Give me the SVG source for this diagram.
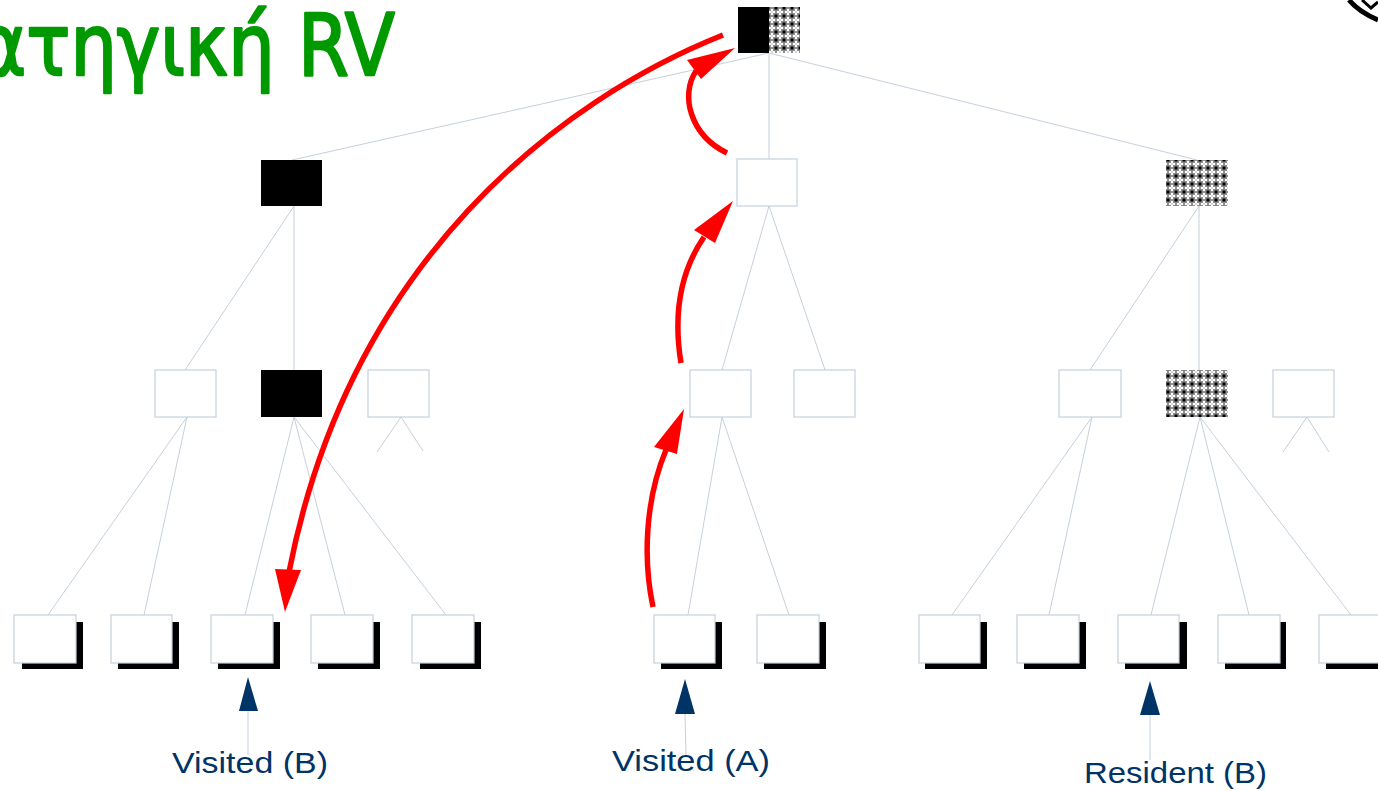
<svg xmlns="http://www.w3.org/2000/svg" width="1378" height="791" viewBox="0 0 1378 791">
<style>
.e{stroke:#c5d0dc;stroke-width:1;fill:none}
.n{fill:#fff;stroke:#c5d0dc;stroke-width:1.2}
.b{fill:#000}
.sh{fill:#000}
.r{stroke:#ff0000;stroke-width:5.5;fill:none}
.rh{fill:#ff0000}
.nv{fill:#003366}
.lbl{font-family:"Liberation Sans",Arial,sans-serif;font-size:30px;fill:#003366}
.title{font-family:"DejaVu Sans","Noto Sans",sans-serif;font-size:86px;fill:#009900;stroke:#009900;stroke-width:2.5;stroke-linejoin:round}
</style>
<defs>
<pattern id="pt" width="8" height="8" patternUnits="userSpaceOnUse">
<rect width="8" height="8" fill="#8c8c8c"/>
<path d="M3,1h2v2h2v2h-2v2h-2v-2h-2v-2h2z" fill="#fff"/>
<rect x="0" y="0" width="1.5" height="1.5" fill="#000"/>
<rect x="6.5" y="0" width="1.5" height="1.5" fill="#000"/>
<rect x="0" y="6.5" width="1.5" height="1.5" fill="#000"/>
<rect x="6.5" y="6.5" width="1.5" height="1.5" fill="#000"/>
<rect x="3.5" y="3.5" width="1" height="1" fill="#555"/>
</pattern>
</defs>
<rect width="1378" height="791" fill="#fff"/>
<text class="title" x="-22" y="75" textLength="417" lengthAdjust="spacingAndGlyphs">ατηγική RV</text>
<path d="M1349,0 Q1359,12 1378,20" stroke="#000" stroke-width="5" fill="none"/>
<path d="M1362,0 L1371,8 L1378,2" stroke="#000" stroke-width="3" fill="none"/>
<g id="connectors">
<line class="e" x1="769" y1="53" x2="292" y2="160"/>
<line class="e" x1="769" y1="53" x2="769" y2="159"/>
<line class="e" x1="769" y1="53" x2="1197" y2="160"/>
<line class="e" x1="294" y1="206" x2="185" y2="370"/>
<line class="e" x1="294" y1="206" x2="294" y2="370"/>
<line class="e" x1="769" y1="206" x2="722" y2="370"/>
<line class="e" x1="769" y1="206" x2="825" y2="370"/>
<line class="e" x1="1199" y1="206" x2="1090" y2="370"/>
<line class="e" x1="1199" y1="206" x2="1199" y2="370"/>
<line class="e" x1="401" y1="417" x2="377" y2="452"/>
<line class="e" x1="401" y1="417" x2="423" y2="451"/>
<line class="e" x1="1307" y1="417" x2="1283" y2="452"/>
<line class="e" x1="1307" y1="417" x2="1329" y2="452"/>
<line class="e" x1="187" y1="417" x2="48" y2="615"/>
<line class="e" x1="187" y1="417" x2="144" y2="615"/>
<line class="e" x1="294" y1="417" x2="245" y2="615"/>
<line class="e" x1="294" y1="417" x2="345" y2="615"/>
<line class="e" x1="294" y1="417" x2="446" y2="615"/>
<line class="e" x1="722" y1="417" x2="688" y2="615"/>
<line class="e" x1="722" y1="417" x2="789" y2="615"/>
<line class="e" x1="1092" y1="417" x2="952" y2="615"/>
<line class="e" x1="1092" y1="417" x2="1049" y2="615"/>
<line class="e" x1="1200" y1="417" x2="1151" y2="615"/>
<line class="e" x1="1200" y1="417" x2="1249" y2="615"/>
<line class="e" x1="1200" y1="417" x2="1351" y2="615"/>
<line class="e" x1="248" y1="711" x2="248" y2="755"/>
<line class="e" x1="685" y1="714" x2="686" y2="757"/>
<line class="e" x1="1150" y1="715" x2="1150" y2="760"/>
</g>
<g id="root"><rect class="b" x="738" y="7" width="31" height="46"/><rect x="769" y="7" width="31" height="46" fill="url(#pt)"/></g>
<g id="l1a"><rect class="b" x="261" y="160" width="61" height="46"/></g>
<g id="l1b"><rect class="n" x="737" y="159" width="60" height="47"/></g>
<g id="l1c"><rect x="1166" y="160" width="62" height="46" fill="url(#pt)"/></g>
<g id="l2a"><rect class="n" x="155" y="370" width="61" height="47"/></g>
<g id="l2b"><rect class="b" x="261" y="370" width="61" height="47"/></g>
<g id="l2c"><rect class="n" x="368" y="370" width="61" height="47"/></g>
<g id="l2d"><rect class="n" x="690" y="370" width="61" height="47"/></g>
<g id="l2e"><rect class="n" x="794" y="370" width="61" height="47"/></g>
<g id="l2f"><rect class="n" x="1059" y="370" width="62" height="47"/></g>
<g id="l2g"><rect x="1166" y="370" width="62" height="47" fill="url(#pt)"/></g>
<g id="l2h"><rect class="n" x="1273" y="370" width="61" height="47"/></g>
<g id="leaf1"><rect class="sh" x="22" y="622" width="61" height="47"/><rect class="n" x="14" y="615" width="62" height="48"/></g>
<g id="leaf2"><rect class="sh" x="118" y="622" width="61" height="47"/><rect class="n" x="111" y="615" width="61" height="48"/></g>
<g id="leaf3"><rect class="sh" x="218" y="622" width="62" height="47"/><rect class="n" x="211" y="615" width="62" height="48"/></g>
<g id="leaf4"><rect class="sh" x="318" y="622" width="62" height="47"/><rect class="n" x="311" y="615" width="62" height="48"/></g>
<g id="leaf5"><rect class="sh" x="420" y="622" width="61" height="47"/><rect class="n" x="412" y="615" width="62" height="48"/></g>
<g id="leaf6"><rect class="sh" x="661" y="622" width="61" height="47"/><rect class="n" x="654" y="615" width="61" height="48"/></g>
<g id="leaf7"><rect class="sh" x="764" y="622" width="62" height="47"/><rect class="n" x="757" y="615" width="62" height="48"/></g>
<g id="leaf8"><rect class="sh" x="925" y="622" width="62" height="47"/><rect class="n" x="919" y="615" width="61" height="48"/></g>
<g id="leaf9"><rect class="sh" x="1024" y="622" width="62" height="47"/><rect class="n" x="1017" y="615" width="62" height="48"/></g>
<g id="leaf10"><rect class="sh" x="1125" y="622" width="62" height="47"/><rect class="n" x="1118" y="615" width="61" height="48"/></g>
<g id="leaf11"><rect class="sh" x="1225" y="622" width="61" height="47"/><rect class="n" x="1218" y="615" width="62" height="48"/></g>
<g id="leaf12"><rect class="sh" x="1326" y="622" width="62" height="47"/><rect class="n" x="1319" y="615" width="62" height="48"/></g>
<g id="arrows">
<path class="r" d="M723,35 C560,100 350,260 289,572"/>
<polygon class="rh" points="285,612 275,569 301,570"/>
<path class="r" d="M727,153 C690,135 680,95 696,71"/>
<polygon class="rh" points="735,48 687,60 701,79"/>
<path class="r" d="M681,363 C674,320 678,275 704,237"/>
<polygon class="rh" points="733,201 694,230 715,243"/>
<path class="r" d="M653,607 C643,560 645,500 666,450"/>
<polygon class="rh" points="684,409 654,447 677,454"/>
</g>
<g id="pointers">
<polygon class="nv" points="248,677 239,711 258,711"/>
<polygon class="nv" points="685,679 675,714 695,714"/>
<polygon class="nv" points="1150,681 1140,715 1160,715"/>
</g>
<g id="labels">
<text class="lbl" x="172" y="773" textLength="156" lengthAdjust="spacingAndGlyphs">Visited (B)</text>
<text class="lbl" x="612" y="771" textLength="158" lengthAdjust="spacingAndGlyphs">Visited (A)</text>
<text class="lbl" x="1084" y="783" textLength="183" lengthAdjust="spacingAndGlyphs">Resident (B)</text>
</g>
</svg>
